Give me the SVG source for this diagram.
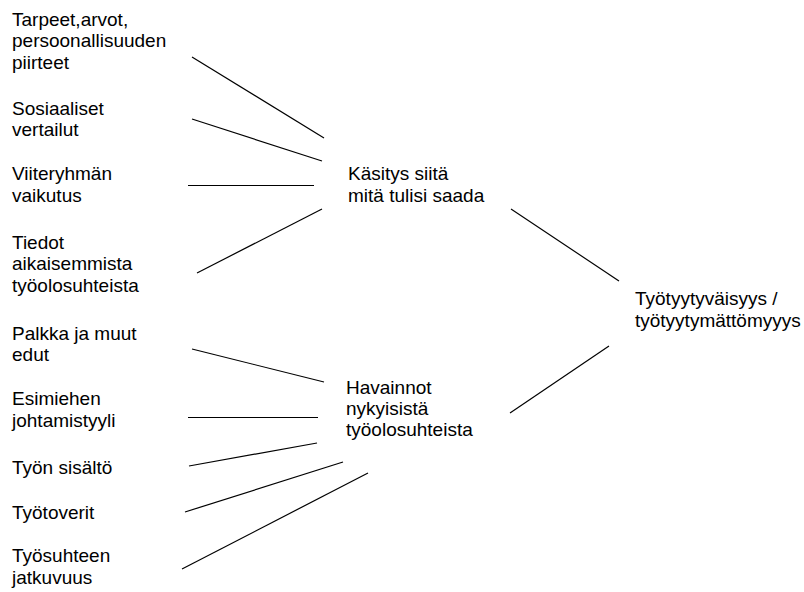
<svg xmlns="http://www.w3.org/2000/svg" width="804" height="592" viewBox="0 0 804 592">
<style>
text{font-family:"Liberation Sans",Arial,sans-serif;font-size:19px;fill:#000}
.c line{stroke:#000;stroke-width:1.2}
</style>
<rect width="804" height="592" fill="#fff"/>
<g id="n-tarpeet"><text x="12" y="25.5">Tarpeet,arvot,</text><text x="12" y="47">persoonallisuuden</text><text x="12" y="68.5">piirteet</text></g>
<g id="n-sosiaaliset"><text x="12" y="114.5">Sosiaaliset</text><text x="12" y="136">vertailut</text></g>
<g id="n-viiteryhman"><text x="12" y="180">Viiteryhmän</text><text x="12" y="201.5">vaikutus</text></g>
<g id="n-tiedot"><text x="12" y="248.5">Tiedot</text><text x="12" y="270">aikaisemmista</text><text x="12" y="291.5">työolosuhteista</text></g>
<g id="n-kasitys"><text x="348" y="179.5">Käsitys siitä</text><text x="348" y="201.5">mitä tulisi saada</text></g>
<g id="n-tyytyvaisyys"><text x="635" y="305">Työtyytyväisyys /</text><text x="635" y="326.5">työtyytymättömyyys</text></g>
<g id="n-havainnot"><text x="346" y="393.5">Havainnot</text><text x="346" y="414.5">nykyisistä</text><text x="346" y="435.5">työolosuhteista</text></g>
<g id="n-palkka"><text x="12" y="339.5">Palkka ja muut</text><text x="12" y="361">edut</text></g>
<g id="n-esimiehen"><text x="12" y="405">Esimiehen</text><text x="12" y="426.5">johtamistyyli</text></g>
<g id="n-sisalto"><text x="12" y="473.5">Työn sisältö</text></g>
<g id="n-tyotoverit"><text x="12" y="518.5">Työtoverit</text></g>
<g id="n-tyosuhteen"><text x="12" y="562">Työsuhteen</text><text x="12" y="584">jatkuvuus</text></g>
<g class="c" id="connectors">
<line x1="192" y1="57" x2="324" y2="138"/>
<line x1="192" y1="119" x2="322" y2="161"/>
<line x1="188" y1="185.5" x2="314" y2="185.5"/>
<line x1="197" y1="273" x2="322" y2="209"/>
<line x1="192" y1="349" x2="324" y2="382"/>
<line x1="188" y1="417.5" x2="318" y2="417.5"/>
<line x1="189" y1="466" x2="317" y2="443"/>
<line x1="185" y1="512" x2="343" y2="462"/>
<line x1="182" y1="569" x2="368" y2="473"/>
<line x1="511" y1="209" x2="619" y2="281"/>
<line x1="609" y1="346" x2="510" y2="413"/>
</g>
</svg>
